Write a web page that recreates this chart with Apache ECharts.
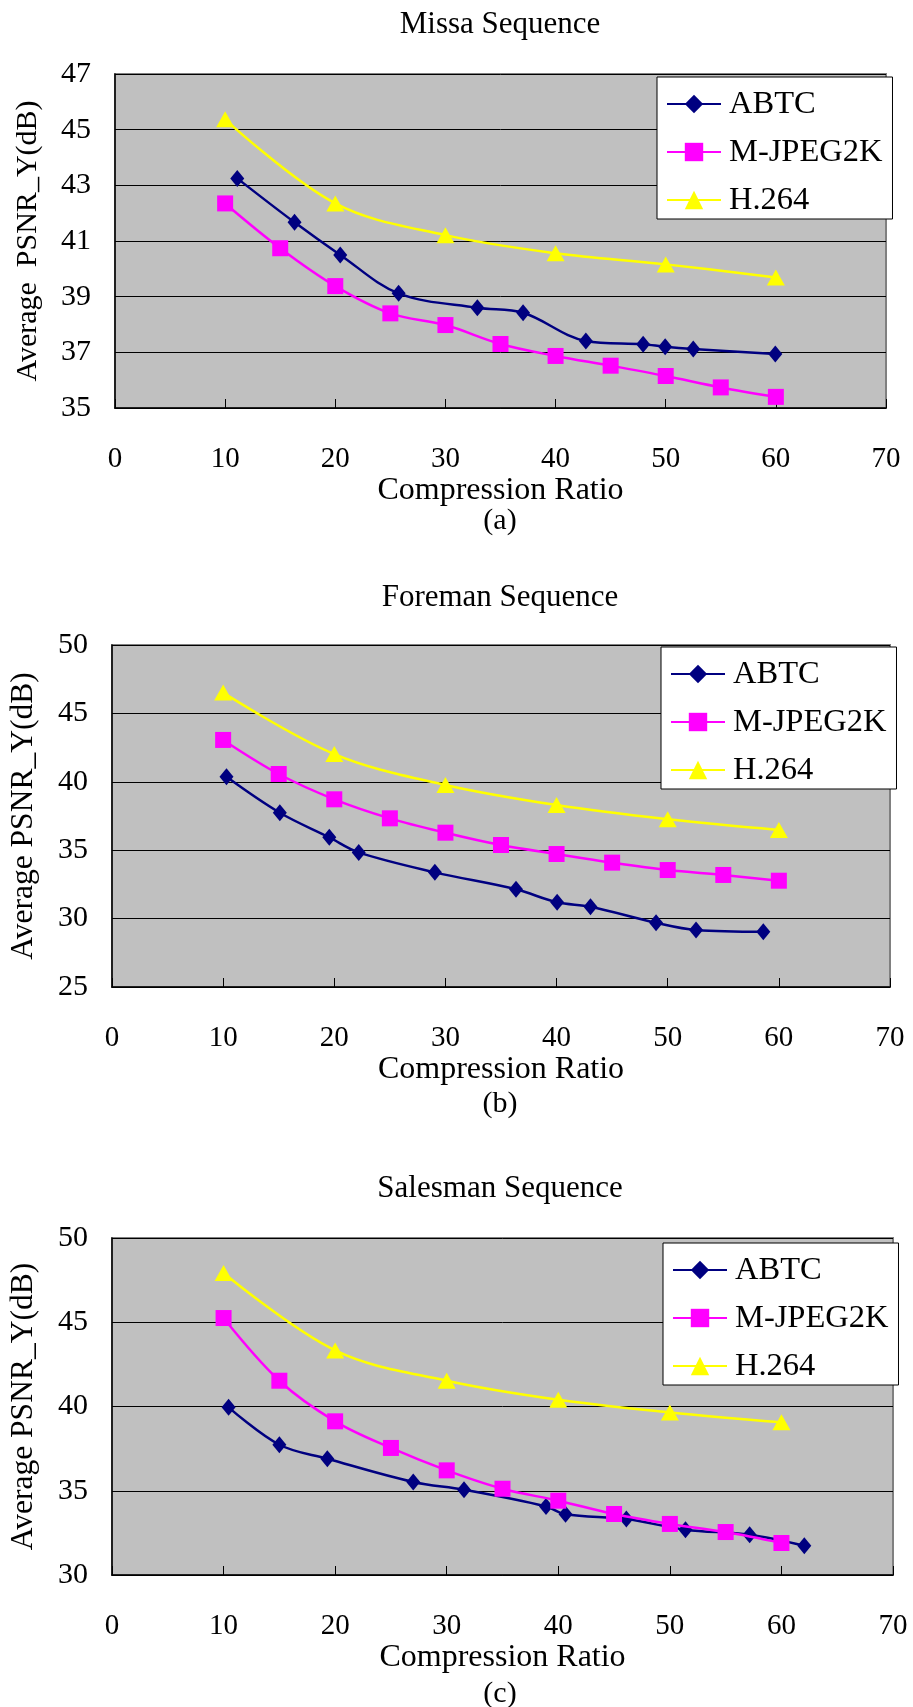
<!DOCTYPE html>
<html>
<head>
<meta charset="utf-8">
<script src="https://cdn.jsdelivr.net/npm/echarts@6/dist/echarts.min.js"></script>
<style>
  html, body { margin: 0; padding: 0; background: #fff; }
  #chart { width: 913px; height: 1707px; }
</style>
</head>
<body>
<div id="chart"></div>
<script>
// values
var seriesNames = ['ABTC', 'M-JPEG2K', 'H.264'];
var panelTitles = ['Missa Sequence', 'Foreman Sequence', 'Salesman Sequence'];
var panelLabels = ['(a)', '(b)', '(c)'];
var yNames = ['Average  PSNR_Y(dB)', 'Average PSNR_Y(dB)', 'Average PSNR_Y(dB)'];
var xTicks = [0, 10, 20, 30, 40, 50, 60, 70];

var jpegX = [10, 15, 20, 25, 30, 35, 40, 45, 50, 55, 60];
var h264X = [10, 20, 30, 40, 50, 60];

// (a) Missa
var missaAbtcX = [11.1, 16.3, 20.45, 25.75, 32.9, 37.05, 42.75, 47.95, 49.95, 52.5, 59.95];
var missaAbtcY = [43.25, 41.67, 40.5, 39.12, 38.6, 38.42, 37.41, 37.29, 37.2, 37.12, 36.94];
var missaJpegY = [42.35, 40.74, 39.38, 38.4, 37.98, 37.3, 36.87, 36.52, 36.15, 35.74, 35.4];
var missaH264Y = [45.37, 42.35, 41.21, 40.56, 40.16, 39.69];

// (b) Foreman
var foremanAbtcX = [10.3, 15.1, 19.55, 22.2, 29.05, 36.35, 40.05, 43.05, 48.95, 52.55, 58.6];
var foremanAbtcY = [40.37, 37.74, 35.94, 34.84, 33.38, 32.14, 31.19, 30.87, 29.7, 29.17, 29.04];
var foremanJpegY = [43.06, 40.57, 38.72, 37.33, 36.28, 35.38, 34.72, 34.09, 33.55, 33.19, 32.77];
var foremanH264Y = [46.52, 42.03, 39.77, 38.3, 37.26, 36.48];

// (c) Salesman
var salesAbtcX = [10.45, 15, 19.3, 27, 31.55, 38.9, 40.65, 46.1, 51.4, 57.15, 62.05];
var salesAbtcY = [39.95, 37.73, 36.9, 35.52, 35.06, 34.07, 33.6, 33.32, 32.69, 32.39, 31.74];
var salesJpegY = [45.25, 41.53, 39.12, 37.54, 36.21, 35.12, 34.41, 33.62, 33.03, 32.55, 31.9];
var salesH264Y = [47.92, 43.33, 41.53, 40.4, 39.65, 39.06];

var yMin = [35, 25, 30];
var yMax = [47, 50, 50];
var yStep = [2, 5, 5];

function pairs(xs, ys) {
    return xs.map(function (x, i) { return [x, ys[i]]; });
}

var panels = [
    [pairs(missaAbtcX, missaAbtcY), pairs(jpegX, missaJpegY), pairs(h264X, missaH264Y)],
    [pairs(foremanAbtcX, foremanAbtcY), pairs(jpegX, foremanJpegY), pairs(h264X, foremanH264Y)],
    [pairs(salesAbtcX, salesAbtcY), pairs(jpegX, salesJpegY), pairs(h264X, salesH264Y)]
];

var font = "'Liberation Serif', 'Times New Roman', serif";
var grids = [
    { left: 115, top: 74, width: 771, height: 334 },
    { left: 108, top: 645, width: 782, height: 342 },
    { left: 112, top: 1238, width: 781, height: 337 }
];
var titleTops = [9, 582, 1173];
var labelTops = [506, 1089, 1679];
var legendPos = [[657, 77], [661, 647], [663, 1243]];
var yNameSizes = [30, 31.5, 31.5];

var colors = ['#000080', '#ff00ff', '#ffff00'];
var symbols = ['diamond', 'rect', 'triangle'];
var symbolSizes = [[14, 17], 16, [18, 16]];

var option = {
    animation: false,
    textStyle: { fontFamily: font, color: '#000' },
    title: [],
    legend: [],
    grid: [],
    xAxis: [],
    yAxis: [],
    series: []
};

grids.forEach(function (g, p) {
    option.grid.push({
        left: g.left, top: g.top, width: g.width, height: g.height,
        show: true, backgroundColor: '#c0c0c0',
        borderColor: '#808080', borderWidth: 2
    });
    option.title.push({
        text: panelTitles[p], left: 500, top: titleTops[p], textAlign: 'center', padding: 0,
        textStyle: { fontFamily: font, fontSize: 31, fontWeight: 'normal', color: '#000' }
    });
    option.title.push({
        text: panelLabels[p], left: 500, top: labelTops[p], textAlign: 'center', padding: 0,
        textStyle: { fontFamily: font, fontSize: 30, fontWeight: 'normal', color: '#000' }
    });
    option.xAxis.push({
        type: 'value', gridIndex: p,
        min: xTicks[0], max: xTicks[xTicks.length - 1], interval: 10,
        name: 'Compression Ratio', nameLocation: 'middle', nameGap: 55,
        nameTextStyle: { fontFamily: font, fontSize: 32, color: '#000' },
        axisLine: { lineStyle: { color: '#000', width: 1.5 } },
        axisTick: { inside: true, length: 9, lineStyle: { color: '#000' } },
        axisLabel: { fontFamily: font, fontSize: 29, color: '#000', margin: 37 },
        splitLine: { show: false }
    });
    option.yAxis.push({
        type: 'value', gridIndex: p,
        min: yMin[p], max: yMax[p], interval: yStep[p],
        name: yNames[p], nameLocation: 'middle', nameGap: 72,
        nameTextStyle: { fontFamily: font, fontSize: yNameSizes[p], color: '#000' },
        axisLine: { show: true, lineStyle: { color: '#000', width: 1.5 } },
        axisTick: { show: false },
        axisLabel: { fontFamily: font, fontSize: 30, color: '#000', margin: 24 },
        splitLine: { lineStyle: { color: '#000', width: 1 } }
    });
    option.legend.push({
        left: legendPos[p][0], top: legendPos[p][1],
        orient: 'vertical',
        data: seriesNames,
        backgroundColor: '#fff', borderColor: '#000', borderWidth: 1,
        padding: [10, 10, 2, 9],
        itemWidth: 54, itemHeight: 23, itemGap: 14,
        textStyle: { fontFamily: font, fontSize: 32.5, color: '#000', lineHeight: 34, padding: [0, 0, 0, 3] }
    });
    panels[p].forEach(function (data, s) {
        option.series.push({
            name: seriesNames[s], type: 'line',
            xAxisIndex: p, yAxisIndex: p,
            data: data,
            smooth: 0.35,
            symbol: symbols[s], symbolSize: symbolSizes[s],
            lineStyle: { color: colors[s], width: 2.5 },
            itemStyle: { color: colors[s] },
            z: 3 + s
        });
    });
});

var chart = echarts.init(document.getElementById('chart'));
chart.setOption(option);
</script>
</body>
</html>
